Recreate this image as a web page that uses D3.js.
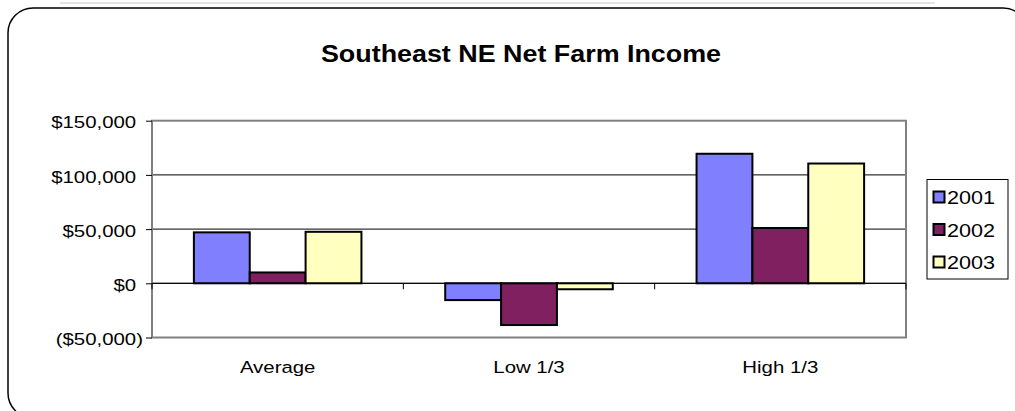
<!DOCTYPE html>
<html>
<head>
<meta charset="utf-8">
<script src="https://cdn.jsdelivr.net/npm/d3@7"></script>
<style>
  body { margin: 0; background: #fff; }
  svg text { font-family: "Liberation Sans", Arial, sans-serif; fill: #000; }
</style>
</head>
<body>
<div id="chart"></div>
<script>
// data
var categories = ["Average", "Low 1/3", "High 1/3"];
var seriesNames = ["2001", "2002", "2003"];
var values2001 = [47000, -15500, 119500];
var values2002 = [10000, -38500, 51000];
var values2003 = [47500, -5500, 110500];
var yTickValues = [-50000, 0, 50000, 100000, 150000];
var colors = ["#8080FF", "#802060", "#FFFFC0"];

var series = [values2001, values2002, values2003];
var stretch = 1.2; // text in the picture is a bit wide

var W = 1015, H = 411;
var plot = { left: 152, right: 906, top: 120.7, bottom: 337.5 };

var svg = d3.select("#chart").append("svg")
  .attr("width", W).attr("height", H);

// faint slide residue at the very top
svg.append("line")
  .attr("x1", 60).attr("x2", 935).attr("y1", 3).attr("y2", 3)
  .attr("stroke", "#e4e4e4").attr("stroke-width", 2);

// rounded frame
svg.append("rect")
  .attr("x", 8).attr("y", 8).attr("width", 1020).attr("height", 410)
  .attr("rx", 25).attr("ry", 25)
  .attr("fill", "none").attr("stroke", "#000").attr("stroke-width", 1.5);

// title
svg.append("text")
  .attr("transform", "translate(521,62) scale(1.12,1)")
  .attr("text-anchor", "middle")
  .style("font-size", "24px").style("font-weight", "bold")
  .text("Southeast NE Net Farm Income");

var y = d3.scaleLinear().domain([-50000, 150000]).range([plot.bottom, plot.top]);
var x0 = d3.scaleBand().domain(categories).range([plot.left, plot.right]);
var bw = x0.bandwidth();
var x1 = d3.scaleBand().domain(seriesNames).range([0, bw * 3 / 4.5]);

// gridlines
svg.append("g").selectAll("line")
  .data(yTickValues.filter(function(v) { return v > -50000 && v < 150000; }))
  .join("line")
  .attr("x1", plot.left).attr("x2", plot.right)
  .attr("y1", function(d) { return y(d); }).attr("y2", function(d) { return y(d); })
  .attr("stroke", "#000").attr("stroke-width", 1);

// bars
series.forEach(function(vals, si) {
  svg.append("g").selectAll("rect")
    .data(vals)
    .join("rect")
    .attr("x", function(d, i) { return x0(categories[i]) + bw * 0.75 / 4.5 + x1(seriesNames[si]); })
    .attr("width", x1.bandwidth())
    .attr("y", function(d) { return y(Math.max(0, d)); })
    .attr("height", function(d) { return Math.abs(y(d) - y(0)); })
    .attr("fill", colors[si])
    .attr("stroke", "#000").attr("stroke-width", 2);
});

// plot border
svg.append("rect")
  .attr("x", plot.left).attr("y", plot.top)
  .attr("width", plot.right - plot.left).attr("height", plot.bottom - plot.top)
  .attr("fill", "none").attr("stroke", "#808080").attr("stroke-width", 2);

// y axis
var money = d3.format(",");
var yAxis = svg.append("g")
  .attr("transform", "translate(" + plot.left + ",0)")
  .call(d3.axisLeft(y).tickValues(yTickValues).tickSize(6).tickSizeOuter(0)
    .tickFormat(function(d) { return d < 0 ? "($" + money(-d) + ")" : "$" + money(d); }));
yAxis.select(".domain").remove();
yAxis.selectAll(".tick line").attr("stroke", "#000");
yAxis.selectAll(".tick text")
  .style("font-size", "17px")
  .attr("dy", "0.42em")
  .attr("x", null)
  .attr("transform", function(d) {
    var xx = -9 - (d >= 0 ? 6.8 : 0);
    return "translate(" + xx + ",0) scale(" + stretch + ",1)";
  });

// x axis along zero
svg.append("line")
  .attr("x1", plot.left).attr("x2", plot.right)
  .attr("y1", y(0)).attr("y2", y(0))
  .attr("stroke", "#000").attr("stroke-width", 1);
var bounds = categories.map(function(c) { return x0(c); }).concat([plot.right]);
svg.append("g").selectAll("line")
  .data(bounds)
  .join("line")
  .attr("x1", function(d) { return d; }).attr("x2", function(d) { return d; })
  .attr("y1", y(0)).attr("y2", y(0) + 6)
  .attr("stroke", "#000").attr("stroke-width", 1);

// category labels at the bottom
svg.append("g").selectAll("text")
  .data(categories)
  .join("text")
  .attr("transform", function(d) {
    return "translate(" + (x0(d) + bw / 2) + ",373) scale(" + stretch + ",1)";
  })
  .attr("text-anchor", "middle")
  .style("font-size", "17px")
  .text(function(d) { return d; });

// legend
var legend = svg.append("g");
legend.append("rect")
  .attr("x", 927).attr("y", 179.5).attr("width", 81).attr("height", 99.5)
  .attr("fill", "#fff").attr("stroke", "#000").attr("stroke-width", 1);
var legendY = d3.scalePoint().domain(seriesNames).range([197, 262]);
var items = legend.selectAll("g.item")
  .data(seriesNames)
  .join("g").attr("class", "item")
  .attr("transform", function(d) { return "translate(0," + legendY(d) + ")"; });
items.append("rect")
  .attr("x", 933.5).attr("y", -5.5).attr("width", 11).attr("height", 11)
  .attr("fill", function(d, i) { return colors[i]; })
  .attr("stroke", "#000").attr("stroke-width", 2);
items.append("text")
  .attr("transform", "translate(947,7) scale(" + stretch + ",1)")
  .style("font-size", "18px")
  .text(function(d) { return d; });
</script>
</body>
</html>
